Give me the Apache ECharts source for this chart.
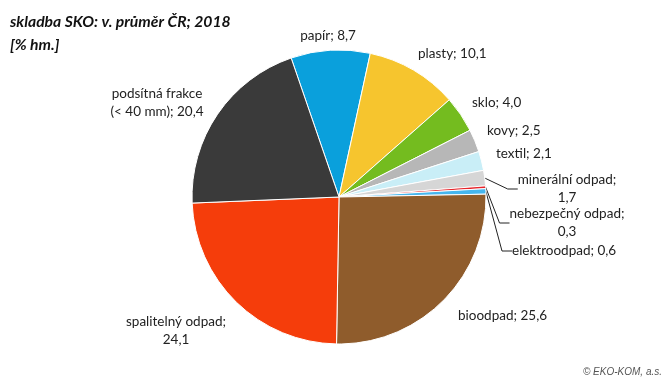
<!DOCTYPE html>
<html><head><meta charset="utf-8">
<script src="https://cdn.jsdelivr.net/npm/echarts@6/dist/echarts.min.js"></script>
<style>html,body{margin:0;padding:0;background:#fff}#c{width:672px;height:390px}</style>
</head><body><div id="c"></div>
<script>
const categories = ['papír','plasty','sklo','kovy','textil','minerální odpad','nebezpečný odpad','elektroodpad','bioodpad','spalitelný odpad','podsítná frakce\n(< 40 mm)'];
const values = [8.7,10.1,4.0,2.5,2.1,1.7,0.3,0.6,25.6,24.1,20.4];
const labelTexts = ['papír; 8,7','plasty; 10,1','sklo; 4,0','kovy; 2,5','textil; 2,1','minerální odpad;\n1,7','nebezpečný odpad;\n0,3','elektroodpad; 0,6','bioodpad; 25,6','spalitelný odpad;\n24,1','podsítná frakce\n(< 40 mm); 20,4'];
const colors = ['#0aa0dc','#f6c52e','#74bc1f','#b7b7b7','#c9eef7','#d6d6d6','#e6242a','#45b6ee','#8f5c2c','#f53d0b','#3a3a3a'];
const showLine = [false,false,false,false,false,true,true,true,false,false,false];
// label anchors [x, y, align]
const labelPos = [[328,36,'center'],[418,54,'left'],[472,103,'left'],[487,131,'left'],[496,154,'left'],[567,189,'center'],[567,223,'center'],[512,251,'left'],[458,316,'left'],[176,331,'center'],[157,103,'center']];

const chart = echarts.init(document.getElementById('c'));
chart.setOption({
  animation:false,
  graphic:[
    {type:'text',left:10,top:10,style:{text:'skladba SKO: v. průměr ČR; 2018\n[% hm.]',font:'italic bold 15.7px Lato',fill:'#111',lineHeight:23}},
    {type:'text',right:10,top:367,style:{text:'© EKO-KOM, a.s.',font:'italic 10px "Liberation Sans"',fill:'#555'}}
  ],
  series:[{
    type:'pie',
    center:[339,197],
    radius:147,
    startAngle:109,
    clockwise:true,
    avoidLabelOverlap:false,
    data: categories.map((c,i)=>({
      name:c, value:values[i],
      itemStyle:{color:colors[i]},
      label:{formatter:labelTexts[i]},
      labelLine:{show:showLine[i]}
    })),
    itemStyle:{borderColor:'#fff',borderWidth:1},
    label:{show:true,position:'outside',fontFamily:'Lato',fontSize:13.5,color:'#222',lineHeight:18,align:'center'},
    labelLine:{length:10,length2:10,lineStyle:{color:'#222',width:1}},
    labelLayout:function(p){
      const lp = labelPos[p.dataIndex];
      return {x:lp[0],y:lp[1],align:lp[2],verticalAlign:'middle'};
    }
  }]
});
</script></body></html>
